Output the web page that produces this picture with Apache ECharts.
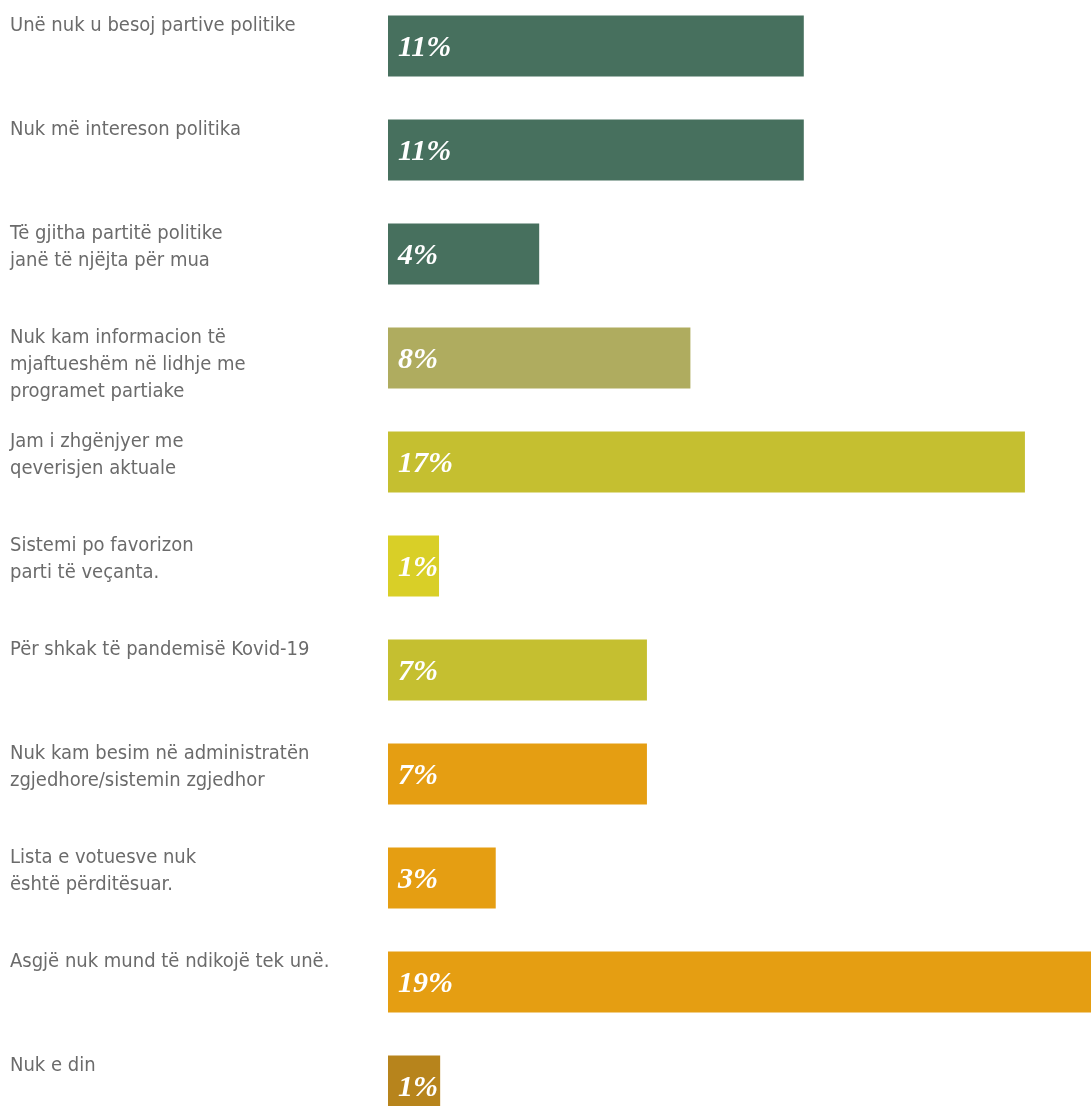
<!DOCTYPE html>
<html>
<head>
<meta charset="utf-8">
<script src="https://cdn.jsdelivr.net/npm/echarts@6/dist/echarts.min.js"></script>
<style>
html,body{margin:0;padding:0;background:#fff;}
#chart{width:1091px;height:1106px;}
</style>
</head>
<body>
<div id="chart"></div>
<script>
// Data
var categories = [
  "Unë nuk u besoj partive politike",
  "Nuk më intereson politika",
  "Të gjitha partitë politike\njanë të njëjta për mua",
  "Nuk kam informacion të\nmjaftueshëm në lidhje me\nprogramet partiake",
  "Jam i zhgënjyer me\nqeverisjen aktuale",
  "Sistemi po favorizon\nparti të veçanta.",
  "Për shkak të pandemisë Kovid-19",
  "Nuk kam besim në administratën\nzgjedhore/sistemin zgjedhor",
  "Lista e votuesve nuk\nështë përditësuar.",
  "Asgjë nuk mund të ndikojë tek unë.",
  "Nuk e din"
];
var values = [11.0, 11.0, 4.0, 8.0, 16.85, 1.35, 6.85, 6.85, 2.85, 18.8, 1.38];
var valueLabels = ["11%", "11%", "4%", "8%", "17%", "1%", "7%", "7%", "3%", "19%", "1%"];
var barColors = ["#47705E", "#47705E", "#47705E", "#AFAC5F", "#C5BF30", "#D9CF27", "#C5BF30", "#E59E12", "#E59E12", "#E59E12", "#B7841C"];

var chart = echarts.init(document.getElementById('chart'), null, {renderer: 'canvas'});
var option = {
  animation: false,
  backgroundColor: '#ffffff',
  grid: {left: 388, top: -6, width: 756, height: 1144, containLabel: false, outerBoundsMode: 'none'},
  xAxis: {type: 'value', min: 0, max: 20, show: false},
  yAxis: {
    type: 'category', data: categories, inverse: true,
    axisLine: {show: false}, axisTick: {show: false}, axisLabel: {show: false}, splitLine: {show: false}
  },
  series: [
    {
      type: 'bar',
      barWidth: 61,
      clip: false,
      data: values.map(function (v, i) { return {value: v, itemStyle: {color: barColors[i]}}; }),
      label: {
        show: true,
        position: 'insideLeft',
        distance: 10,
        offset: [0, 2],
        formatter: function (p) { return valueLabels[p.dataIndex]; },
        color: '#ffffff',
        fontFamily: 'Liberation Serif',
        fontStyle: 'italic',
        fontWeight: 'bold',
        fontSize: 30
      }
    },
    {
      type: 'bar',
      barWidth: 61,
      barGap: '-100%',
      silent: true,
      clip: false,
      data: values,
      itemStyle: {color: 'rgba(0,0,0,0)'},
      label: {
        show: true,
        position: [-378, -3],
        align: 'left',
        verticalAlign: 'top',
        formatter: '{b}',
        color: '#6B6B6B',
        fontFamily: '"Liberation Sans Narrow", "DejaVu Sans Condensed", sans-serif',
        fontSize: 20,
        lineHeight: 27
      }
    }
  ]
};
chart.setOption(option);
</script>
</body>
</html>
